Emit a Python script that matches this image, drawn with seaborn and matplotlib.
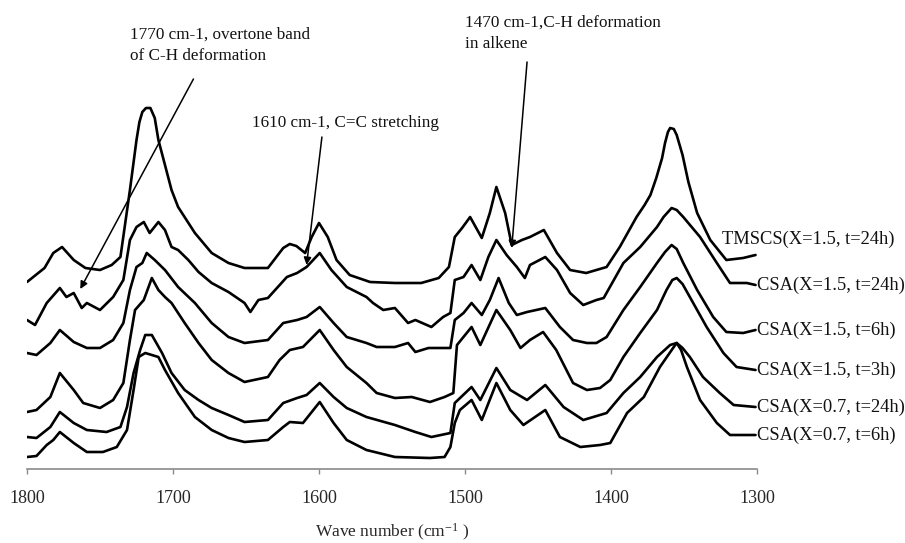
import matplotlib
matplotlib.use("Agg")
import matplotlib.pyplot as plt
import numpy as np
import pandas as pd
import seaborn as sns

# IR spectra (stacked, arbitrary absorbance units) in the 1800-1300 cm-1 region
samples = [
    "TMSCS(X=1.5, t=24h)",
    "CSA(X=1.5, t=24h)",
    "CSA(X=1.5, t=6h)",
    "CSA(X=1.5, t=3h)",
    "CSA(X=0.7, t=24h)",
    "CSA(X=0.7, t=6h)",
]

wn_tmscs = [1800, 1788, 1782, 1776, 1768, 1760, 1750, 1742, 1736, 1729.5, 1725, 1723,
            1721, 1718.5, 1715.5, 1712.5, 1710, 1701, 1696.5, 1685, 1673.5, 1662, 1651,
            1635, 1624.5, 1620, 1615.5, 1609.5, 1605, 1600, 1594, 1588, 1579, 1565, 1548,
            1530, 1518, 1511, 1507, 1502, 1496.5, 1488.5, 1483, 1478.5, 1472.5, 1468,
            1461, 1455.5, 1446, 1437, 1428, 1417, 1403, 1394, 1382.5, 1377, 1373, 1369,
            1365, 1363, 1361, 1359.5, 1357, 1355, 1351, 1347, 1341, 1332, 1321, 1309.5,
            1301]
ab_tmscs = [188, 202, 217, 223, 210, 202, 200, 205, 213, 280, 330, 348,
            358, 362, 362, 352, 330, 280, 263, 237, 217, 207, 202,
            202, 222, 226, 224, 217, 233, 247, 233, 210, 195, 188, 187,
            187, 192, 203, 233, 242, 253, 232, 257, 283, 257, 225,
            230, 233, 240, 217, 200, 197, 203, 223, 253, 265, 275, 292,
            312, 327, 338, 342, 341, 335, 315, 288, 257, 230, 210, 212,
            215]

wn_csa_15_24 = [1800, 1794.5, 1786.5, 1777.5, 1773, 1768, 1762.5, 1759, 1750, 1741, 1734,
                1729.5, 1725, 1720, 1716, 1710, 1705.5, 1701, 1696.5, 1689.5, 1682.5,
                1673.5, 1662, 1651, 1647, 1641.5, 1635, 1622, 1615, 1608.5, 1599.5,
                1591.5, 1581, 1567.5, 1563, 1556, 1548, 1539, 1534, 1523, 1515, 1510,
                1507, 1501, 1495.5, 1489.5, 1484, 1478.5, 1471.5, 1464.5, 1459, 1455.5,
                1445, 1437, 1428, 1419, 1410, 1405, 1391.5, 1380, 1368.5, 1364, 1358.5,
                1355, 1350.5, 1339, 1327.5, 1318.5, 1307, 1301]
ab_csa_15_24 = [150, 145, 167, 182, 173, 177, 162, 167, 160, 173, 190,
                230, 243, 248, 237, 248, 240, 223, 220, 210, 198,
                187, 178, 167, 158, 170, 172, 193, 197, 203, 217,
                200, 183, 173, 167, 160, 162, 147, 150, 143, 153, 157,
                190, 193, 205, 190, 213, 230, 215, 203, 192, 205,
                213, 200, 177, 165, 170, 172, 207, 223, 243, 253, 262,
                260, 253, 233, 207, 187, 187, 185]

wn_csa_15_6 = [1800, 1793.5, 1784, 1777.5, 1768, 1759, 1750, 1741, 1734, 1729.5, 1725,
               1721, 1718, 1712.5, 1705.5, 1696.5, 1685, 1673.5, 1662, 1651, 1635,
               1624.5, 1615, 1608.5, 1599.5, 1590, 1581, 1567.5, 1560.5, 1548, 1539,
               1534, 1525, 1510, 1507, 1501, 1495.5, 1488.5, 1483, 1477, 1470, 1464.5,
               1457.5, 1445, 1435, 1426, 1416.5, 1410, 1403, 1391.5, 1380, 1368.5,
               1363, 1358.5, 1355, 1350.5, 1341, 1330, 1321, 1309.5, 1301]
ab_csa_15_6 = [117, 115, 127, 140, 128, 122, 122, 130, 147, 180, 203,
               207, 217, 210, 200, 183, 167, 147, 133, 127, 130,
               147, 150, 153, 163, 147, 133, 127, 123, 123, 127,
               118, 122, 122, 150, 157, 167, 155, 170, 192, 167, 155,
               158, 162, 143, 130, 127, 127, 133, 160, 183, 207,
               218, 225, 221, 207, 180, 153, 138, 137, 140]

wn_csa_15_3 = [1800, 1793.5, 1784, 1777.5, 1768, 1761.5, 1750, 1741, 1734, 1729.5, 1726,
               1720, 1714.5, 1710, 1705.5, 1701, 1692, 1682.5, 1673.5, 1662, 1651, 1635,
               1627, 1620, 1611, 1599.5, 1590, 1581, 1567.5, 1560.5, 1548, 1536.5, 1524,
               1514, 1508, 1505.5, 1495.5, 1489.5, 1478.5, 1469, 1462, 1455.5, 1446.5,
               1437.5, 1426, 1416.5, 1407.5, 1400.5, 1391.5, 1380, 1368.5, 1362, 1358,
               1355, 1351, 1346, 1334.5, 1323, 1314, 1301]
ab_csa_15_3 = [58, 60, 73, 97, 80, 67, 62, 70, 87, 130, 160,
               170, 192, 180, 173, 167, 147, 127, 110, 97, 88, 93,
               110, 120, 123, 140, 120, 103, 87, 77, 72, 73, 68,
               73, 77, 125, 143, 125, 160, 140, 122, 130, 138,
               120, 87, 80, 82, 90, 113, 137, 160, 180, 190,
               192, 186, 173, 143, 117, 103, 100]

wn_csa_07_24 = [1800, 1793.5, 1784, 1777.5, 1768, 1759, 1745.5, 1736, 1731.5, 1727, 1722.5,
                1719, 1714.5, 1707.5, 1701, 1692, 1682.5, 1673.5, 1662, 1651, 1635,
                1624.5, 1615, 1608.5, 1599.5, 1590, 1581, 1567.5, 1548, 1534, 1523, 1510,
                1507, 1495.5, 1489.5, 1478.5, 1469, 1457.5, 1445, 1432.5, 1419, 1403,
                1391.5, 1380, 1368.5, 1359.5, 1355, 1351, 1346, 1337, 1325.5, 1316, 1301]
ab_csa_07_24 = [33, 32, 43, 58, 47, 40, 38, 43, 63, 97, 120,
                135, 135, 117, 97, 80, 70, 62, 55, 48, 50,
                67, 72, 75, 87, 73, 62, 53, 45, 38, 33, 37,
                67, 83, 70, 102, 80, 70, 85, 63, 50, 57,
                77, 93, 113, 125, 127, 122, 113, 93, 77, 65, 63]

wn_csa_07_6 = [1800, 1793.5, 1786.5, 1782, 1777.5, 1768, 1759, 1748, 1738.5, 1731.5, 1727,
               1723.5, 1719, 1710, 1705.5, 1696.5, 1685, 1673.5, 1662, 1651, 1635, 1624.5,
               1620, 1611, 1599.5, 1590, 1581, 1567.5, 1548, 1524, 1514, 1510, 1507,
               1503.5, 1495.5, 1488.5, 1478.5, 1469, 1460, 1445, 1435, 1421, 1407.5,
               1400.5, 1389, 1377.5, 1366.5, 1357, 1355, 1352, 1348, 1339, 1327.5, 1318.5,
               1301]
ab_csa_07_6 = [13, 14, 25, 30, 38, 27, 18, 18, 23, 40, 80,
               113, 117, 113, 100, 77, 53, 40, 32, 28, 30, 43,
               48, 47, 68, 47, 30, 20, 13, 12, 13, 23, 47,
               60, 70, 50, 87, 60, 45, 60, 33, 23, 25,
               27, 57, 73, 103, 123, 127, 120, 103, 70, 47, 35,
               35]

wavenumbers = [wn_tmscs, wn_csa_15_24, wn_csa_15_6, wn_csa_15_3, wn_csa_07_24, wn_csa_07_6]
absorbances = [ab_tmscs, ab_csa_15_24, ab_csa_15_6, ab_csa_15_3, ab_csa_07_24, ab_csa_07_6]

x_ticks = [1800, 1700, 1600, 1500, 1400, 1300]

# band assignments: (text, text anchor, arrow tail, arrow head) in (cm-1, a.u.)
bands = [
    ("1770 cm-1, overtone band\nof C-H deformation", (1729.5, 425), (1686, 391), (1763.5, 181)),
    ("1610 cm-1, C=C stretching", (1646, 347), (1598, 333), (1608.5, 205)),
    ("1470 cm-1,C-H deformation\nin alkene", (1500, 437), (1457.5, 408), (1468, 222)),
]

frames = [pd.DataFrame({"wavenumber": w, "absorbance": a, "sample": s})
          for w, a, s in zip(wavenumbers, absorbances, samples)]
df = pd.concat(frames, ignore_index=True)

sns.set_style("white")
plt.rcParams["font.family"] = ["Liberation Serif", "DejaVu Serif"]
plt.rcParams["mathtext.fontset"] = "custom"
plt.rcParams["mathtext.rm"] = "Liberation Serif"
plt.rcParams["mathtext.it"] = "Liberation Serif:italic"

fig = plt.figure(figsize=(9.05, 5.43), dpi=100)
ax = fig.add_axes([27 / 905, 1 - 469 / 543, 730 / 905, 369 / 543])

sns.lineplot(data=df, x="wavenumber", y="absorbance", hue="sample",
             palette={s: "black" for s in samples}, estimator=None, sort=False,
             legend=False, linewidth=1.9, ax=ax)
for line in ax.get_lines():
    line.set_solid_joinstyle("round")
    line.set_solid_capstyle("round")

ax.set_xlim(1800, 1300)
ax.set_ylim(1, 370)
ax.set_xticks(x_ticks)
ax.set_xticklabels([str(t) for t in x_ticks], fontsize=13)
ax.set_yticks([])
ax.set_ylabel("")
ax.set_xlabel("Wave number (cm$^{-1}$ )", fontsize=12.5, labelpad=10.5)
for side in ("left", "top", "right"):
    ax.spines[side].set_visible(False)
ax.spines["bottom"].set_color("#8a8a8a")
ax.spines["bottom"].set_linewidth(1.2)
ax.tick_params(axis="x", direction="out", length=3.5, width=1.0, color="#8a8a8a",
               pad=11.5, bottom=True)

# sample names at the right-hand end of each spectrum
label_offsets = [(-24, 11), (1, 0), (1, 0), (1, 0), (1, 0), (1, 0)]
for s, w, a, off in zip(samples, wavenumbers, absorbances, label_offsets):
    ax.annotate(s, xy=(w[-1], a[-1]), xytext=off, textcoords="offset points",
                ha="left", va="center", fontsize=13.3, color="#111111",
                annotation_clip=False)

for text, pos, tail, head in bands:
    ax.text(pos[0], pos[1], text, ha="left", va="center", fontsize=12.3,
            color="#111111", linespacing=1.45, clip_on=False)
    ax.annotate("", xy=head, xytext=tail, annotation_clip=False,
                arrowprops=dict(arrowstyle="-|>", color="black", lw=1.1,
                                mutation_scale=11, shrinkA=0, shrinkB=0))

fig.savefig("out.png", dpi=100)
